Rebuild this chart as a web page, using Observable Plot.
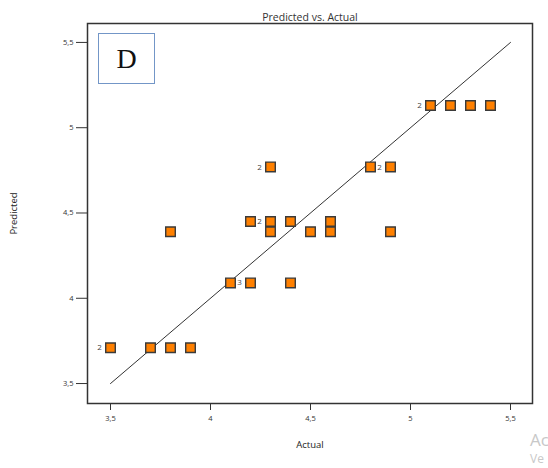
<!DOCTYPE html>
<html>
<head>
<meta charset="utf-8">
<script src="https://cdn.jsdelivr.net/npm/d3@7"></script>
<script src="https://cdn.jsdelivr.net/npm/@observablehq/plot@0.6"></script>
<style>
  html, body { margin: 0; padding: 0; background: #fff; overflow: hidden; }
  #wrap { position: relative; width: 548px; height: 468px; }
  #badge { position: absolute; left: 98px; top: 33px; width: 57px; height: 51px;
           border: 1px solid #7396c7; box-sizing: border-box;
           font-family: "Liberation Serif", "DejaVu Serif", serif; font-size: 28px;
           display: flex; align-items: center; justify-content: center; color: #111; background: #fff; }
  .wm { position: absolute; left: 530px; color: #c8c8c8; font-family: "Open Sans", sans-serif; white-space: nowrap; }
</style>
</head>
<body>
<div id="wrap"></div>
<script>
const title = "Predicted vs. Actual";
const xLabel = "Actual";
const yLabel = "Predicted";
const panelLetter = "D";

const actual    = [5.1, 5.2, 5.3, 5.4, 4.3, 4.8, 4.9, 4.2, 4.3, 4.4, 4.6, 3.8, 4.3, 4.5, 4.6, 4.9, 4.1, 4.2, 4.4, 3.5, 3.7, 3.8, 3.9];
const predicted = [5.13, 5.13, 5.13, 5.13, 4.77, 4.77, 4.77, 4.45, 4.45, 4.45, 4.45, 4.39, 4.39, 4.39, 4.39, 4.39, 4.09, 4.09, 4.09, 3.71, 3.71, 3.71, 3.71];
const counts    = [2, 1, 1, 1, 2, 1, 2, 1, 2, 1, 1, 1, 1, 1, 1, 1, 1, 3, 1, 2, 1, 1, 1];
const ticks = [3.5, 4, 4.5, 5, 5.5];
const fitLine = [3.5, 5.5];

const pts = actual.map((a, i) => ({a, p: predicted[i], n: counts[i]}));
const labeled = pts.filter(d => d.n > 1);
const linePts = fitLine.map(v => ({a: v, p: v}));
const fmt = d => String(d).replace(".", ",");

const chart = Plot.plot({
  width: 548,
  height: 468,
  marginLeft: 87,
  marginRight: 16,
  marginTop: 23,
  marginBottom: 65,
  style: {fontFamily: "'Open Sans', 'Noto Sans', sans-serif", background: "#fff", color: "#333"},
  x: {domain: [3.385, 5.61]},
  y: {domain: [3.383, 5.611]},
  marks: [
    Plot.axisX({ticks, tickFormat: fmt, tickSize: 7, tickPadding: 5, fontSize: 7.5, stroke: "#333", fill: "#333",
                label: xLabel, labelAnchor: "center", labelOffset: 44, labelArrow: "none"}),
    Plot.axisY({ticks, tickFormat: fmt, tickSize: 11, tickPadding: 3, fontSize: 7.5, stroke: "#333", fill: "#333",
                label: yLabel, labelAnchor: "center", labelOffset: 77, labelArrow: "none"}),
    Plot.frame({stroke: "#333", strokeWidth: 1.5}),
    Plot.line(linePts, {x: "a", y: "p", stroke: "#333", strokeWidth: 1}),
    Plot.dot(pts, {x: "a", y: "p", symbol: "square", r: 5.4, fill: "#ff8000", stroke: "#3a3a3a", strokeWidth: 1.4}),
    Plot.text(labeled, {x: "a", y: "p", text: d => String(d.n), dx: -11, fontSize: 8, fill: "#444"}),
    Plot.text([title], {frameAnchor: "top", dy: -10, fontSize: 10.5, fill: "#333"})
  ]
});
chart.querySelectorAll("g[aria-label='x-axis label'] text, g[aria-label='y-axis label'] text").forEach(t => {
  t.setAttribute("font-size", "9.5");
  t.setAttribute("fill", "#222");
});
const wrap = document.getElementById("wrap");
wrap.appendChild(chart);
const badge = document.createElement("div");
badge.id = "badge";
badge.textContent = panelLetter;
wrap.appendChild(badge);
const w1 = document.createElement("div");
w1.className = "wm"; w1.style.top = "428px"; w1.style.fontSize = "17px"; w1.textContent = "Ac";
const w2 = document.createElement("div");
w2.className = "wm"; w2.style.top = "450px"; w2.style.fontSize = "12px"; w2.textContent = "Ve";
wrap.appendChild(w1); wrap.appendChild(w2);
</script>
</body>
</html>
